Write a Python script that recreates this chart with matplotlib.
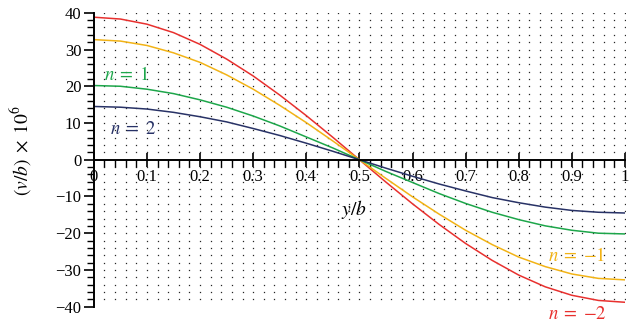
import numpy as np
import matplotlib.pyplot as plt
from matplotlib.ticker import MultipleLocator

plt.rcParams['font.family'] = 'Liberation Serif'
plt.rcParams['mathtext.fontset'] = 'stix'

# y/b positions and displacement profiles (v/b) x 10^6 for each n
yb = [0.00, 0.05, 0.10, 0.15, 0.20, 0.25, 0.30, 0.35, 0.40, 0.45, 0.50,
      0.55, 0.60, 0.65, 0.70, 0.75, 0.80, 0.85, 0.90, 0.95, 1.00]
v_n_m2 = [38.8, 38.3, 36.9, 34.6, 31.4, 27.4, 22.8, 17.6, 12.0, 6.1, 0.0,
          -6.1, -12.0, -17.6, -22.8, -27.4, -31.4, -34.6, -36.9, -38.3, -38.8]
v_n_m1 = [32.7, 32.3, 31.1, 29.1, 26.5, 23.1, 19.2, 14.8, 10.1, 5.1, 0.0,
          -5.1, -10.1, -14.8, -19.2, -23.1, -26.5, -29.1, -31.1, -32.3, -32.7]
v_n_1 = [20.2, 20.0, 19.2, 18.0, 16.3, 14.3, 11.9, 9.2, 6.2, 3.2, 0.0,
         -3.2, -6.2, -9.2, -11.9, -14.3, -16.3, -18.0, -19.2, -20.0, -20.2]
v_n_2 = [14.5, 14.3, 13.8, 12.9, 11.7, 10.3, 8.5, 6.6, 4.5, 2.3, 0.0,
         -2.3, -4.5, -6.6, -8.5, -10.3, -11.7, -12.9, -13.8, -14.3, -14.5]

fig = plt.figure(figsize=(6.3, 3.28), dpi=100)
ax = fig.add_axes([0.149, 0.065, 0.843, 0.896])

ax.set_xlim(0, 1)
ax.set_ylim(-40, 40)

# dot-matrix background at every minor tick crossing
gx, gy = np.meshgrid(np.arange(0.02, 1.001, 0.02), np.arange(-38, 40.1, 2))
ax.plot(gx.ravel(), gy.ravel(), ls='none', marker='s', ms=0.9, mew=0,
        color='0.15', zorder=0)

ax.plot(yb, v_n_m2, color='#e8302e', lw=1.1)
ax.plot(yb, v_n_m1, color='#f2b316', lw=1.1)
ax.plot(yb, v_n_1, color='#1da64a', lw=1.1)
ax.plot(yb, v_n_2, color='#283266', lw=1.1)

# axis styling: x axis runs through zero
ax.spines['top'].set_visible(False)
ax.spines['right'].set_visible(False)
ax.spines['bottom'].set_position(('data', 0))
ax.spines['left'].set_linewidth(1.4)
ax.spines['bottom'].set_linewidth(1.4)

ax.xaxis.set_minor_locator(MultipleLocator(0.02))
ax.yaxis.set_minor_locator(MultipleLocator(2))
ax.set_xticks([0, 0.1, 0.2, 0.3, 0.4, 0.5, 0.6, 0.7, 0.8, 0.9, 1.0])
ax.set_xticklabels(['0', '0.1', '0.2', '0.3', '0.4', '0.5', '0.6', '0.7', '0.8', '0.9', '1'])
ax.set_yticks([-40, -30, -20, -10, 0, 10, 20, 30, 40])
ax.set_yticklabels(['\u221240', '\u221230', '\u221220', '\u221210', '0', '10', '20', '30', '40'])

ax.tick_params(axis='x', which='major', direction='inout', length=10, width=1.2, labelsize=12, pad=2)
ax.tick_params(axis='x', which='minor', direction='out', length=5, width=1)
ax.tick_params(axis='y', which='major', direction='out', length=7, width=1.2, labelsize=12, pad=2)
ax.tick_params(axis='y', which='minor', direction='out', length=5, width=1)

ax.set_ylabel(r'$(v/b)\;\times\;10^{6}$', fontsize=14)
ax.yaxis.set_label_coords(-0.113, 0.53)
ax.text(0.49, -13.5, r'$y/b$', fontsize=14, ha='center', va='center')

ax.text(0.02, 23.0, r'$n\;=\;1$', color='#1da64a', fontsize=13.5, va='center')
ax.text(0.03, 8.3, r'$n\;=\;2$', color='#283266', fontsize=13.5, va='center')
ax.text(0.855, -26.3, r'$n\;=\;{-1}$', color='#f2b316', fontsize=13.5, va='center')
ax.text(0.855, -42.0, r'$n\;=\;{-2}$', color='#e8302e', fontsize=13.5, va='center', clip_on=False)

fig.savefig('out.png', dpi=100)
